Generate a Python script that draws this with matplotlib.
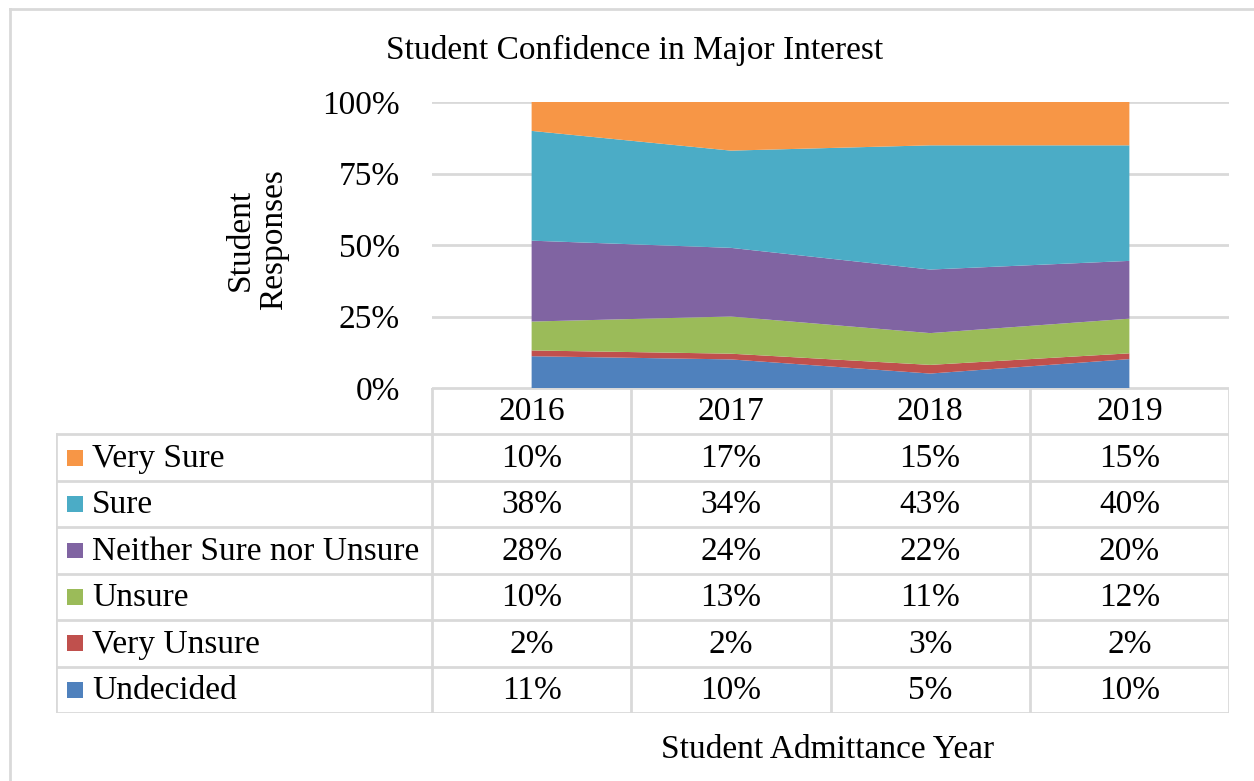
import matplotlib
matplotlib.use('Agg')
import matplotlib.pyplot as plt
import numpy as np

years = ['2016', '2017', '2018', '2019']
# bottom to top of the stack
series = ['Undecided', 'Very Unsure', 'Unsure', 'Neither Sure nor Unsure', 'Sure', 'Very Sure']
undecided = [11, 10, 5, 10]
very_unsure = [2, 2, 3, 2]
unsure = [10, 13, 11, 12]
neither = [28, 24, 22, 20]
sure = [38, 34, 43, 40]
very_sure = [10, 17, 15, 15]
colors = ['#4F81BD', '#C0504D', '#9BBB59', '#8064A2', '#4BACC6', '#F79646']

plt.rcParams['font.family'] = ['Liberation Serif', 'DejaVu Serif']
FS = 24
GRID = '#d9d9d9'

W, H = 1254, 781
fig = plt.figure(figsize=(W / 100, H / 100), dpi=100)


def fx(px):
    return px / W


def fy(py):
    return 1 - py / H


# outer chart border (top and left only visible)
fig.add_artist(plt.Line2D([fx(10), fx(10)], [fy(9), 0], color=GRID, lw=2))
fig.add_artist(plt.Line2D([fx(10), 1], [fy(9), fy(9)], color=GRID, lw=2))

# main stacked area (100%)
vals = np.array([undecided, very_unsure, unsure, neither, sure, very_sure], dtype=float)
fracs = vals / vals.sum(axis=0)
x = np.arange(len(years))

ax = fig.add_axes([fx(432), fy(388), fx(1229) - fx(432), fy(102) - fy(388)])
ax.stackplot(x, fracs, colors=colors, linewidth=0, zorder=2)
ax.set_xlim(-0.5, 3.5)
ax.set_ylim(0, 1)
ax.set_yticks([0, 0.25, 0.5, 0.75, 1.0])
ax.set_yticklabels(['0%', '25%', '50%', '75%', '100%'], fontsize=FS)
ax.tick_params(axis='y', length=0, pad=23)
ax.set_xticks([])
ax.yaxis.grid(True, color=GRID, lw=2, zorder=0)
ax.set_axisbelow(True)
for s in ax.spines.values():
    s.set_visible(False)

# data table
nrows = len(series) + 1
tax = fig.add_axes([fx(56), fy(713), fx(1229) - fx(56), fy(388) - fy(713)])
left = -0.5 - (432 - 56) / (1229 - 432) * 4
tax.set_xlim(left, 3.5)
tax.set_ylim(nrows, 0)
tax.axis('off')

lkw = dict(color=GRID, lw=2, solid_capstyle='projecting')
# header row lines
tax.plot([-0.5, 3.5], [0, 0], **lkw)
for i in range(len(years) + 1):
    tax.plot([i - 0.5, i - 0.5], [0, nrows], **lkw)
for r in range(1, nrows + 1):
    tax.plot([left, 3.5], [r, r], **lkw)
tax.plot([left, left], [1, nrows], **lkw)

for i, yr in enumerate(years):
    tax.text(i, 0.52, yr, ha='center', va='center', fontsize=FS)

# rows top to bottom: reversed stack order
unit = 4 / (1229 - 432)
for r, k in enumerate(range(len(series) - 1, -1, -1)):
    row = r + 1.5
    tax.add_patch(plt.Rectangle((left + 11 * unit, row - 0.17), 16 * unit, 0.34,
                                color=colors[k], lw=0))
    tax.text(left + 36 * unit, row + 0.02, series[k], ha='left', va='center', fontsize=FS)
    for i in range(len(years)):
        tax.text(i, row + 0.02, '%d%%' % vals[k, i], ha='center', va='center', fontsize=FS)

fig.text(fx(635), fy(50), 'Student Confidence in Major Interest', ha='center', va='center', fontsize=FS)
fig.text(fx(257), fy(240), 'Student\nResponses', ha='center', va='center', rotation=90,
         fontsize=FS, linespacing=1.1)
fig.text(fx(828), fy(750), 'Student Admittance Year', ha='center', va='center', fontsize=FS)

fig.savefig('out.png', dpi=100)
